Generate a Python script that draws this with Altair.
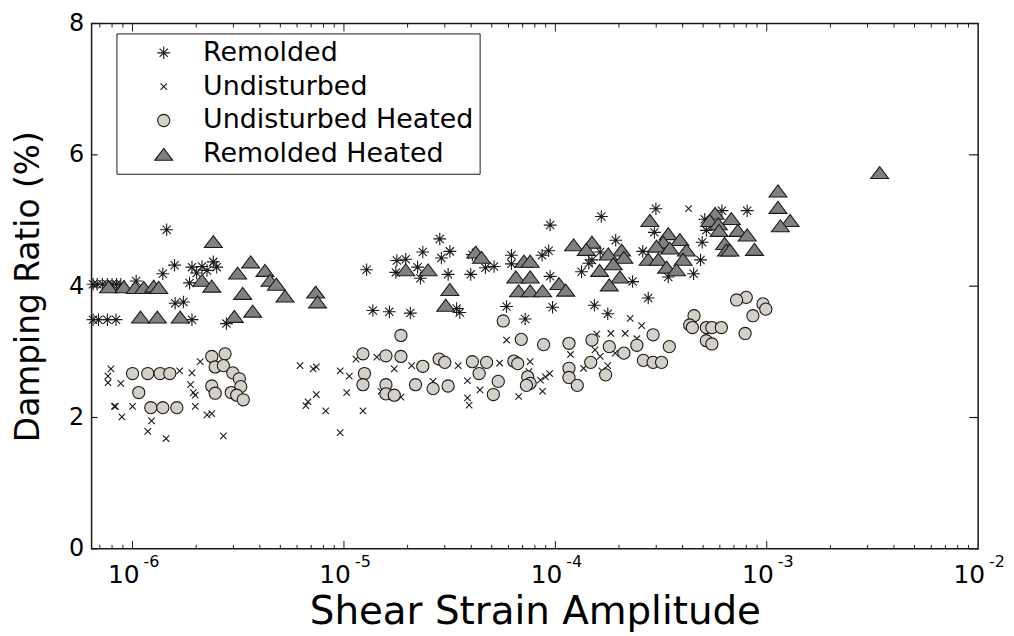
import altair as alt
import pandas as pd

# ---------------- data ----------------
series_names = ["Remolded", "Undisturbed", "Undisturbed Heated", "Remolded Heated"]

remolded_x = [6.5e-7, 6.8e-7, 7.2e-7, 7.6e-7, 8.0e-7, 8.4e-7, 8.8e-7, 1.04e-6,
              6.5e-7, 6.9e-7, 7.6e-7, 8.35e-7, 1.91e-6, 2.78e-6,
              1.45e-6, 1.39e-6, 1.58e-6, 1.86e-6, 1.91e-6, 2.13e-6, 2.25e-6, 2.41e-6, 2.5e-6, 2.01e-6, 1.59e-6, 1.74e-6,
              2.84e-5, 2.36e-5, 3.17e-5, 2.89e-5, 1.78e-5, 1.96e-5, 2.23e-5, 1.76e-5, 2.3e-5, 1.28e-5, 3.11e-5, 3.98e-5,
              4.67e-5, 5.13e-5, 4.05e-5, 6.2e-5, 6.2e-5, 8.65e-5, 9.3e-5, 9.45e-5, 9.45e-5, 1.37e-5, 1.64e-5, 2.06e-5,
              3.41e-5, 3.53e-5, 5.88e-5, 7.2e-5, 9.7e-5,
              1.65e-4, 2.99e-4, 6.14e-4, 8.08e-4, 5.09e-4, 5.18e-4, 2.94e-4, 1.93e-4, 4.95e-4, 1.63e-4, 1.49e-4, 1.44e-4,
              1.33e-4, 2.59e-4, 4.86e-4, 4.51e-4, 3.42e-4, 2.32e-4, 2.75e-4, 1.53e-4, 1.77e-4]
remolded_y = [4.03, 4.03, 4.03, 4.03, 4.03, 4.03, 4.03, 4.08,
              3.49, 3.49, 3.49, 3.49, 3.49, 3.43,
              4.86, 4.19, 4.32, 4.05, 4.29, 4.30, 4.24, 4.37, 4.29, 4.20, 3.74, 3.76,
              4.72, 4.52, 4.53, 4.43, 4.39, 4.41, 4.29, 4.21, 4.12, 4.25, 4.18, 4.18,
              4.28, 4.30, 4.48, 4.47, 4.34, 4.47, 4.54, 4.15, 4.93, 3.63, 3.61, 3.59,
              3.66, 3.60, 3.69, 3.50, 3.68,
              5.06, 5.18, 5.15, 5.15, 5.02, 4.85, 4.82, 4.70, 4.67, 4.52, 4.40, 4.35,
              4.22, 4.53, 4.40, 4.19, 4.14, 4.07, 3.82, 3.71, 3.58]

undisturbed_x = [7.9e-7, 7.65e-7, 7.65e-7, 8.8e-7, 8.2e-7, 8.3e-7, 1.0e-6, 8.9e-7, 1.23e-6, 1.18e-6, 1.44e-6,
                 1.67e-6, 1.91e-6, 2.09e-6, 1.88e-6, 1.94e-6, 1.98e-6, 1.98e-6, 2.25e-6, 2.37e-6, 2.69e-6,
                 6.2e-6, 7.15e-6, 7.4e-6, 9.6e-6, 1.06e-5, 7.4e-6, 6.76e-6, 6.6e-6, 8.2e-6, 1.03e-5, 9.6e-6,
                 1.14e-5, 1.43e-5, 1.73e-5, 2.09e-5, 3.47e-5, 5.45e-5, 7.6e-5, 7.5e-5, 8.5e-5, 8.98e-5, 9.4e-5,
                 1.5e-5, 1.86e-5, 2.64e-5, 3.84e-5, 4.4e-5, 3.84e-5, 3.91e-5, 6.7e-5, 8.7e-5, 1.23e-5, 5.88e-5,
                 4.27e-4, 2.26e-4, 2.56e-4, 1.83e-4, 2.14e-4, 1.57e-4, 2.43e-4, 1.18e-4, 1.54e-4, 1.63e-4,
                 1.92e-4, 1.36e-4, 1.77e-4, 1.66e-4]
undisturbed_y = [2.74, 2.63, 2.53, 2.52, 2.17, 2.17, 2.17, 2.01, 1.95, 1.79, 1.68,
                 2.71, 2.68, 2.85, 2.50, 2.38, 2.34, 2.17, 2.04, 2.06, 1.72,
                 2.79, 2.74, 2.77, 2.71, 2.63, 2.35, 2.24, 2.18, 2.10, 2.38, 1.77,
                 2.89, 2.92, 2.74, 2.79, 2.79, 2.83, 2.85, 2.70, 2.57, 2.62, 2.67,
                 2.40, 2.31, 2.55, 2.56, 2.42, 2.30, 2.19, 2.32, 2.40, 2.10, 3.18,
                 5.18, 3.51, 3.40, 3.28, 3.28, 3.27, 3.20, 2.96, 3.03, 2.93,
                 2.98, 2.75, 2.79, 2.71]

und_heated_x = [1.0e-6, 1.18e-6, 1.35e-6, 1.5e-6, 1.07e-6, 1.22e-6, 1.39e-6, 1.62e-6, 2.37e-6, 2.74e-6,
                2.46e-6, 2.69e-6, 2.98e-6, 3.2e-6, 3.25e-6, 2.37e-6, 2.46e-6, 2.93e-6, 3.11e-6, 3.34e-6,
                5.67e-5, 1.86e-5, 6.9e-5, 8.8e-5, 1.23e-5, 1.58e-5, 1.86e-5, 2.36e-5, 2.82e-5, 3.0e-5,
                4.05e-5, 4.73e-5, 6.36e-5, 6.64e-5, 1.25e-5, 4.36e-5, 5.37e-5, 7.4e-5, 1.23e-5, 1.58e-5,
                2.18e-5, 2.64e-5, 3.11e-5, 1.58e-5, 1.73e-5, 7.6e-5, 7.3e-5, 5.09e-5,
                8.0e-4, 7.2e-4, 9.6e-4, 9.9e-4, 8.6e-4, 7.9e-4, 4.53e-4, 4.32e-4, 4.45e-4, 5.18e-4,
                5.5e-4, 6.1e-4, 5.18e-4, 5.5e-4, 2.9e-4, 3.46e-4, 2.43e-4, 2.11e-4, 1.8e-4, 1.49e-4,
                1.16e-4, 1.47e-4, 2.61e-4, 2.9e-4, 3.18e-4, 1.16e-4, 1.16e-4, 1.27e-4, 1.73e-4]
und_heated_y = [2.67, 2.67, 2.67, 2.67, 2.38, 2.15, 2.15, 2.15, 2.93, 2.97,
                2.77, 2.79, 2.68, 2.59, 2.47, 2.48, 2.37, 2.38, 2.34, 2.27,
                3.47, 3.25, 3.19, 3.11, 2.97, 2.94, 2.93, 2.78, 2.89, 2.84,
                2.85, 2.84, 2.86, 2.82, 2.67, 2.67, 2.55, 2.62, 2.50, 2.50,
                2.50, 2.44, 2.48, 2.36, 2.34, 2.52, 2.49, 2.35,
                3.83, 3.79, 3.73, 3.65, 3.55, 3.28, 3.55, 3.41, 3.37, 3.37,
                3.37, 3.37, 3.17, 3.12, 3.26, 3.08, 3.10, 2.98, 3.08, 3.18,
                3.13, 2.84, 2.87, 2.84, 2.84, 2.75, 2.61, 2.49, 2.65]

rem_heated_x = [2.41e-6, 7.7e-7, 9.1e-7, 1.03e-6, 1.13e-6, 1.26e-6, 1.33e-6, 1.09e-6, 1.31e-6, 1.68e-6,
                2.13e-6, 2.37e-6, 3.14e-6, 3.62e-6, 4.23e-6, 4.47e-6, 4.79e-6, 3.32e-6, 5.26e-6, 7.35e-6,
                7.5e-6, 3.03e-6, 3.7e-6,
                1.96e-5, 2.5e-5, 4.2e-5, 4.47e-5, 3.17e-5, 3.03e-5, 7.1e-5, 7.6e-5, 6.5e-5, 7.6e-5,
                6.7e-5, 7.6e-5, 8.7e-5,
                2.8e-4, 5.7e-4, 6.8e-4, 5.37e-4, 5.9e-4, 7.3e-4, 8.08e-4, 5.95e-4, 3.42e-4, 3.88e-4,
                3.24e-4, 6.32e-4, 8.75e-4, 6.45e-4, 6.7e-4, 1.22e-4, 1.49e-4, 2.06e-4, 1.78e-4, 2.11e-4,
                1.88e-4, 1.62e-4, 2.02e-4, 1.8e-4, 1.4e-4, 3.01e-4, 3.48e-4, 4.17e-4, 2.75e-4, 3.07e-4,
                4.02e-4, 3.36e-4, 3.74e-4, 1.04e-4, 1.12e-4,
                3.42e-3, 1.13e-3, 1.13e-3, 1.29e-3, 1.16e-3]
rem_heated_y = [4.68, 3.99, 3.99, 3.98, 3.98, 4.00, 3.98, 3.53, 3.53, 3.53,
                4.09, 4.00, 4.20, 4.37, 4.24, 4.09, 4.03, 3.89, 3.85, 3.91,
                3.76, 3.54, 3.62,
                4.25, 4.25, 4.52, 4.44, 3.95, 3.71, 4.38, 4.38, 4.14, 4.14,
                3.93, 3.93, 3.93,
                5.00, 5.11, 5.03, 5.00, 4.95, 4.85, 4.78, 4.85, 4.80, 4.71,
                4.67, 4.65, 4.56, 4.55, 4.55, 4.63, 4.67, 4.55, 4.49, 4.44,
                4.34, 4.24, 4.14, 4.02, 4.56, 4.61, 4.58, 4.55, 4.41, 4.41,
                4.41, 4.29, 4.25, 4.04, 3.94,
                5.73, 5.45, 5.20, 5.00, 4.92]

# axis tick values and labels
y_ticks = [0, 2, 4, 6, 8]
x_decades = [1e-6, 1e-5, 1e-4, 1e-3, 1e-2]
x_label_base = ["10", "10", "10", "10", "10"]
x_label_exp = ["-6", "-5", "-4", "-3", "-2"]
x_major_inner = [1e-6, 1e-5, 1e-4, 1e-3]
x_minor = [7e-7, 8e-7, 9e-7,
           2e-6, 3e-6, 4e-6, 5e-6, 6e-6, 7e-6, 8e-6, 9e-6,
           2e-5, 3e-5, 4e-5, 5e-5, 6e-5, 7e-5, 8e-5, 9e-5,
           2e-4, 3e-4, 4e-4, 5e-4, 6e-4, 7e-4, 8e-4, 9e-4,
           2e-3, 3e-3, 4e-3, 5e-3, 6e-3, 7e-3, 8e-3, 9e-3]

# ---------------- build table ----------------
rows = []
for name, xs, ys in [("Remolded", remolded_x, remolded_y),
                     ("Undisturbed", undisturbed_x, undisturbed_y),
                     ("Undisturbed Heated", und_heated_x, und_heated_y),
                     ("Remolded Heated", rem_heated_x, rem_heated_y)]:
    for xv, yv in zip(xs, ys):
        rows.append({"series": name, "strain": xv, "damping": yv})
df = pd.DataFrame(rows)

W, H = 891, 528
FONT = "DejaVu Sans"
INK = "#1a1a1a"
SYM = 324  # common symbol size: path unit = 9 px
xscale = alt.Scale(type="log", domain=[6.4e-7, 1e-2], nice=False)
yscale = alt.Scale(domain=[0, 8], nice=False)

ASTER = "M-0.72,0L0.72,0M0,-0.7L0,0.7M-0.46,-0.46L0.46,0.46M-0.46,0.46L0.46,-0.46"
XMARK = "M-0.36,-0.36L0.36,0.36M-0.36,0.36L0.36,-0.36"
CIRC = "M0.68,0A0.68,0.68 0 1,1 -0.68,0A0.68,0.68 0 1,1 0.68,0Z"
TRI = "M-1,0.667L1,0.667L0,-0.667Z"

xaxis = alt.Axis(title="Shear Strain Amplitude", labels=False, ticks=False, domain=False, grid=False,
                 titleFontSize=39, titleFont=FONT, titleFontWeight="normal", titlePadding=44,
                 titleColor="black")
yaxis = alt.Axis(values=y_ticks, title="Damping Ratio (%)", ticks=False, domain=False, grid=False,
                 labelFontSize=24, labelFont=FONT, labelColor="black", labelPadding=8,
                 titleFontSize=33, titleFont=FONT, titleFontWeight="normal", titlePadding=23,
                 titleColor="black")

legend = alt.Legend(
    title=None, orient="none", legendX=25, legendY=10,
    strokeColor=INK, fillColor="white", padding=6,
    symbolOffset=28, labelOffset=26, labelFontSize=27, labelFont=FONT, labelColor="black",
    labelLimit=0, rowPadding=6, symbolSize=SYM,
    symbolStrokeColor=INK, symbolStrokeWidth=1.1,
)

points = alt.Chart(df).mark_point(filled=True, strokeWidth=1.1, opacity=1, size=SYM).encode(
    x=alt.X("strain:Q", scale=xscale, axis=xaxis),
    y=alt.Y("damping:Q", scale=yscale, axis=yaxis),
    shape=alt.Shape("series:N", scale=alt.Scale(domain=series_names, range=[ASTER, XMARK, CIRC, TRI]),
                    legend=legend),
    fill=alt.Fill("series:N", scale=alt.Scale(domain=series_names, range=["black", "black", "#d4d0c8", "#808080"]),
                  legend=legend),
    stroke=alt.Stroke("series:N", scale=alt.Scale(domain=series_names, range=[INK, INK, INK, INK]),
                      legend=legend),
)

yt = pd.DataFrame({"v": y_ticks})
left_ticks = alt.Chart(yt).mark_rule(color=INK, strokeWidth=1.2).encode(
    y=alt.Y("v:Q", scale=yscale, axis=yaxis), x=alt.value(0), x2=alt.value(6))
right_ticks = alt.Chart(yt).mark_rule(color=INK, strokeWidth=1.2).encode(
    y=alt.Y("v:Q", scale=yscale, axis=yaxis), x=alt.value(W), x2=alt.value(W - 9))

xmj = pd.DataFrame({"v": x_major_inner})
xmn = pd.DataFrame({"v": x_minor})
bot_major = alt.Chart(xmj).mark_rule(color=INK, strokeWidth=1).encode(
    x=alt.X("v:Q", scale=xscale, axis=xaxis), y=alt.value(H), y2=alt.value(H - 8))
top_major = alt.Chart(xmj).mark_rule(color=INK, strokeWidth=1).encode(
    x=alt.X("v:Q", scale=xscale, axis=xaxis), y=alt.value(0), y2=alt.value(8))
bot_minor = alt.Chart(xmn).mark_rule(color=INK, strokeWidth=1).encode(
    x=alt.X("v:Q", scale=xscale, axis=xaxis), y=alt.value(H), y2=alt.value(H - 4))
top_minor = alt.Chart(xmn).mark_rule(color=INK, strokeWidth=1).encode(
    x=alt.X("v:Q", scale=xscale, axis=xaxis), y=alt.value(0), y2=alt.value(4))

xl = pd.DataFrame({"v": x_decades, "base": x_label_base, "exp": x_label_exp})
lab_base = alt.Chart(xl).mark_text(align="right", baseline="alphabetic", fontSize=25, font=FONT,
                                   dx=7, color="black").encode(
    x=alt.X("v:Q", scale=xscale, axis=xaxis), y=alt.value(H + 34), text="base:N")
lab_exp = alt.Chart(xl).mark_text(align="left", baseline="alphabetic", fontSize=16, font=FONT,
                                  dx=11, color="black").encode(
    x=alt.X("v:Q", scale=xscale, axis=xaxis), y=alt.value(H + 18), text="exp:N")

chart = alt.layer(points, left_ticks, right_ticks, bot_major, top_major, bot_minor, top_minor,
                  lab_base, lab_exp).properties(
    width=W, height=H,
    autosize=alt.AutoSizeParams(type="none"),
    padding={"left": 84, "top": 14, "right": 28, "bottom": 86},
).configure_view(
    stroke=INK, strokeWidth=1.5
)

chart.save("out.html", embed_options={"renderer": "svg", "actions": False})
